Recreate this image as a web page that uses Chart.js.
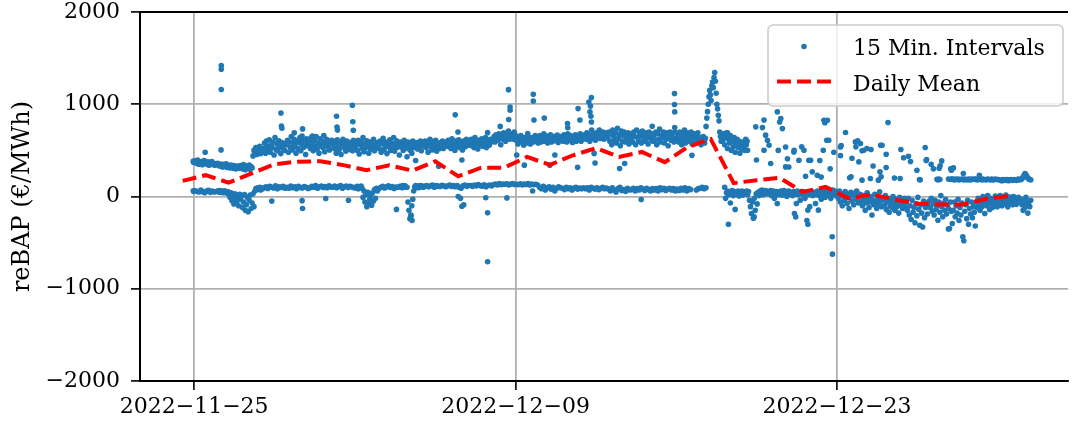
<!DOCTYPE html>
<html>
<head>
<meta charset="utf-8">
<script src="https://cdn.jsdelivr.net/npm/chart.js@4.4.0/dist/chart.umd.min.js"></script>
<style>
  html, body { margin: 0; padding: 0; background: #fff; }
  #chart { display: block; }
</style>
</head>
<body>
<canvas id="chart" width="1072" height="427"></canvas>
<script>
//======================== data ======================================================
// day 0 = 2022-11-25 00:00, values in EUR/MWh
const startDate = Date.UTC(2022, 10, 25);
const tickDays = [0, 14, 28];
const yTicks = [-2000, -1000, 0, 1000, 2000];

// upper cloud of the 15 min prices, one list per day, spread evenly over the day
const upperBand = [
  [385,370,360,395,350,372,358,380,345,368,390,480,362,350,375,340,365,355,378,348,360,338,352,345],
  [360,345,330,352,340,320,348,335,325,355,315,338,330,310,342,322,305,335,318,300,328,312,330,305],
  [335,320,300,345,310,290,330,315,305,340,295,325,310,440,500,470,530,455,510,480,545,465,520,490],
  [520,580,470,600,545,500,615,480,560,530,590,450,640,510,570,495,605,540,465,585,525,555,500,575],
  [560,610,480,590,530,650,505,575,620,545,470,600,520,585,640,495,560,610,535,580,455,625,550,590],
  [590,520,640,560,495,610,545,650,515,580,470,625,550,600,530,660,485,575,620,540,595,505,565,610],
  [560,600,520,580,470,615,540,505,590,455,560,620,530,575,490,600,545,510,585,530,570,495,610,555],
  [540,580,500,610,460,560,595,520,640,485,570,530,605,550,470,590,515,575,545,620,495,560,530,585],
  [560,520,600,480,575,630,510,550,590,465,570,540,615,500,580,525,640,490,560,605,535,575,450,590],
  [540,580,500,610,520,560,430,590,545,505,575,470,600,530,555,390,585,515,565,540,600,495,570,550],
  [560,600,530,590,480,570,620,545,505,595,560,530,610,490,575,540,520,585,555,600,520,570,545,590],
  [570,610,540,590,520,625,555,580,500,600,545,575,615,530,590,560,505,600,570,540,620,560,580,555],
  [580,620,550,600,530,640,570,590,515,610,560,600,625,545,590,570,640,530,605,580,555,620,590,610],
  [620,650,590,670,630,610,680,640,560,660,620,690,630,600,670,650,710,620,680,640,660,620,700,670],
  [610,650,570,630,600,660,590,620,555,640,610,580,650,600,625,570,640,610,590,630,660,605,620,580],
  [620,660,590,640,610,680,600,630,655,580,640,615,670,590,630,650,605,640,620,665,585,635,650,610],
  [640,600,670,620,650,590,680,630,610,660,640,585,650,625,670,600,640,655,620,680,600,640,665,630],
  [650,620,690,640,670,600,660,720,630,680,650,610,690,640,660,720,630,680,640,700,620,670,650,690],
  [640,700,600,680,560,720,650,610,690,580,740,630,670,550,710,600,660,700,590,650,620,690,570,660],
  [620,680,590,700,650,560,720,640,600,690,660,580,710,630,670,600,690,640,570,700,650,620,680,600],
  [650,600,700,560,680,620,730,590,660,640,700,580,670,620,690,550,650,700,610,680,640,590,700,630],
  [620,680,590,700,640,560,670,610,720,580,650,690,600,660,620,700,570,640,680,600,650,620,690,640],
  [600,640,560,620,590,650,610,580,630,760,850,920,1000,1080,1150,1100,1040,1200,1240,1180,1290,1343,1250,1120,1000,950,880,820,700,650,600,620],
  [600,680,560,640,690,520,620,580,660,500,600,540,640,480,580,620,530,600,470,560,520,590,540,500],
  [], [], [], [], [], [], [], [],
  [null,null,null,null,null,null,null,null,187,180,190,185,null,null,null,null,null,null,null,null,190,null,185,188],
  [190,185,180,190,null,185,190,180,185,null,190,185,180,190,185,null,180,190,185,180,190,185,null,188],
  [185,190,180,185,190,null,185,180,190,185,null,180,185,190,185,null,180,190,185,180,185,190,null,185],
  [185,180,null,175,170,185,180,null,175,185,180,170,null,185,180,175,185,null,180,175,185,190,180,185],
  [185,195,210,230,249,235,215,200,190,185,180,null,null,null,null,null,null,null,null,null,null,null,null,null],
];

// lower cloud, same layout
const lowerBand = [
  [62,55,48,70,52,40,58,66,45,60,50,55],
  [58,50,65,45,60,52,40,62,48,55,35,50,20,-10,40,-45,15,-80,30,-20,-60,10,-100,25],
  [-30,5,-120,-60,20,-150,-90,-10,-165,-40,15,-130,-70,30,-110,60,85,75,95,80,100,70,90,85],
  [95,105,88,110,100,92,115,85,105,98,110,90],
  [100,90,112,95,105,85,110,98,92,108,100,88],
  [95,110,100,118,90,105,112,98,108,95,115,102],
  [100,112,95,108,118,90,105,112,98,110,102,95],
  [100,92,110,85,105,98,112,90,-10,60,-60,20,-110,45,-80,-30,10,-95,40,-50,75,-20,90,60],
  [85,100,110,92,105,115,98,108,88,102,100,110],
  [110,95,120,105,115,100,100,-60,-150,-240,-200,-100,-30,60,105,118,100,110,95,115,120,105,112,100],
  [110,120,105,115,125,100,118,112,108,122,115,105],
  [115,125,110,120,105,118,100,90,115,125,110,120],
  [120,110,125,115,130,118,112,128,105,120,125,115],
  [130,135,125,140,128,135,132,138,125,135,140,130],
  [132,128,138,125,135,130,140,126,134,128,132,125],
  [100,85,110,70,95,105,80,100,60,90,105,95],
  [90,75,100,85,95,70,88,100,80,92,85,95],
  [85,95,70,100,90,80,95,75,88,100,85,92],
  [80,60,95,70,50,85,100,65,75,55,90,70],
  [75,90,60,85,70,95,80,65,88,75,60,85],
  [70,85,60,95,75,88,65,80,90,70,85,60],
  [80,65,90,70,95,60,85,75,null,null,70,85],
  [90,100,85,95,null,null,null,null,null,null,null,null],
  [null,null,100,-20,40,60,20,50,-70,30,65,10,55,-140,40,25,60,5,45,30,60,15,50,35],
  [40,60,20,55,-40,-110,-184,-60,-235,-20,-150,30,-80,45,10,60,35,70,20,55,40,65,30,50],
  [50,30,65,10,45,60,-20,35,55,-76,20,50,40,60,15,45,65,30,55,0,40,60,25,45],
  [40,10,55,-184,25,-76,60,20,45,-40,30,55,15,50,-20,40,-260,-148,20,-110,35,55,10,45],
  [40,-76,20,60,-148,10,50,-30,70,25,45,-10,60,30,80,15,55,-20,40,70,25,60,10,45],
  [40,-20,60,-60,10,-100,30,-40,55,-10,-75,20,-130,0,45,-50,15,-90,35,-30,60,-15,-70,25],
  [20,-50,-100,10,-30,-150,-70,40,-20,-120,-60,0,-200,-40,-90,25,-60,-130,-10,-80,50,-45,-110,-20],
  [-30,-90,10,-140,-60,-20,-170,-100,-45,-120,0,-80,-150,-30,-110,-60,-180,-10,-95,-50,-130,-70,-20,-115],
  [-60,-150,-20,-200,-100,-250,-40,-170,-120,-285,-80,-210,-10,-140,-311,-90,-180,-330,-50,-230,-120,-70,-190,-110],
  [-50,-120,-20,-160,-80,-200,-40,-140,-100,-257,-60,-170,10,-110,-220,-70,-150,-30,-190,-90,-130,-347,-60,-160],
  [-293,-150,-60,-220,-100,-180,-30,-260,-120,-200,-70,-437,-480,-160,-90,-240,-40,-300,-130,-190,-60,-230,-110,-170],
  [-320,-60,-120,-20,-90,-150,-40,-110,0,-70,-184,-30,-100,10,-60,-140,-20,-80,-120,-40,-90,5,-60,-110],
  [-20,-70,10,-50,-100,-10,-80,-40,15,-60,-112,-30,-5,-75,-45,-90,0,-55,-25,-85,-40,-10,-65,-30],
  [-30,-90,-150,-50,-120,-10,-80,-180,-60,-110,-40,null,null,null,null,null,null,null,null,null,null,null,null,null],
];

// single points away from the two clouds: [day, value]
const extraPoints = [
  [-0.04,385],[-0.03,372],[-0.04,62],[-0.02,55],
  [1.18,1420],[1.18,1380],[1.18,1160],[1.17,505],
  [3.38,-50],[3.78,905],[3.8,765],[3.82,740],
  [4.36,690],[4.7,655],[4.72,733],[4.7,-45],[4.72,-130],
  [5.15,655],[5.73,-22],
  [6.2,870],[6.22,754],[6.24,720],[6.72,-40],[6.89,989],[6.91,810],[6.93,718],
  [8.81,-140],[9.45,-210],[9.49,-260],[10.65,328],
  [11.37,885],[11.49,700],[11.5,0],[11.6,-20],[11.66,396],[11.66,-105],[11.74,-90],
  [12.7,-13],[12.78,692],[12.78,-177],[12.78,-708],
  [13.33,760],[13.62,-15],[13.69,1158],[13.7,835],[13.76,970],[13.76,935],
  [14.05,450],[14.38,340],[14.53,683],[14.74,60],[14.77,1108],[14.77,1036],[14.8,830],
  [15.25,850],[15.49,340],[15.71,450],
  [16.26,790],[16.27,745],[16.7,316],[16.72,953],[16.8,830],
  [17.19,1024],[17.24,917],[17.26,980],[17.28,870],[17.3,1072],[17.3,808],[17.42,467],[17.46,363],
  [18.53,303],[18.75,357],[19.47,-33],[19.95,761],
  [20.92,1116],[20.92,997],[20.93,917],[20.93,747],[21.68,446],
  [23.23,690],[23.27,-300],
  [24.02,620],[24.05,560],[24.08,600],[24.1,500],[24.39,-221],[24.46,755],[24.49,396],
  [24.75,747],[24.82,830],[24.82,502],[24.89,665],[24.97,610],
  [25.04,555],[25.11,357],[25.4,917],[25.44,500],[25.5,808],[25.55,845],[25.62,736],[25.76,537],[25.76,321],[25.84,410],[25.9,320],
  [26.12,483],[26.13,502],[26.2,-221],[26.34,393],[26.46,538],[26.56,502],[26.63,220],[26.73,-300],[26.77,393],[26.85,393],[26.92,267],
  [27.14,230],[27.25,390],[27.31,212],[27.4,502],[27.43,827],[27.47,800],[27.55,610],[27.58,827],[27.64,610],[27.7,300],
  [27.79,-437],[27.8,-625],[27.86,480],
  [28.15,537],[28.15,443],[28.18,552],[28.37,693],[28.55,202],[28.61,213],[28.65,415],[28.8,592],[28.82,538],[28.9,603],[28.95,375],
  [29.02,574],[29.09,495],[29.09,177],[29.16,502],[29.3,520],[29.45,195],[29.48,510],[29.57,330],[29.8,177],[29.87,267],[29.9,556],[29.92,213],[29.96,556],
  [30.14,458],[30.14,314],[30.22,802],[30.5,200],[30.75,195],[30.78,509],[30.9,420],
  [31.11,437],[31.2,380],[31.48,285],[31.59,184],[31.62,180],[31.84,531],[31.88,390],[31.9,400],
  [32.1,350],[32.2,300],[32.45,307],[32.49,332],[32.56,386],[32.85,-353],[32.95,300],[32.98,285],
  [33.07,310],[33.5,250],[34.2,230],
];

// daily mean, one value per day, plotted at noon from 2022-11-24 on
const meanFirstDay = -0.5;
const dailyMean = [170,231,150,250,350,378,382,340,285,339,280,382,219,312,312,429,343,447,524,430,
  483,372,537,622,145,177,202,50,104,-22,22,-33,-76,-87,-87,-25,6];

// ================== build points =======================
const scatterPoints = [];
function addBand(band) {
  band.forEach((vals, day) => {
    vals.forEach((v, i) => {
      if (v === null) return;
      scatterPoints.push({ x: day + (i + 0.5) / vals.length, y: v });
    });
  });
}
addBand(upperBand);
addBand(lowerBand);
extraPoints.forEach((p) => scatterPoints.push({ x: p[0], y: p[1] }));

const meanPoints = dailyMean.map((v, i) => ({ x: meanFirstDay + i, y: v }));

function dayLabel(d) {
  const t = new Date(startDate + d * 86400000);
  const mm = String(t.getUTCMonth() + 1).padStart(2, "0");
  const dd = String(t.getUTCDate()).padStart(2, "0");
  return t.getUTCFullYear() + "\u2212" + mm + "\u2212" + dd;
}

const serif = "'DejaVu Serif', serif";
const blue = "#1f77b4";

// top spine + matplotlib style legend box
const framePlugin = {
  id: "frame",
  afterDraw(chart) {
    const ctx = chart.ctx;
    const a = chart.chartArea;
    ctx.save();
    ctx.strokeStyle = "#000";
    ctx.lineWidth = 2;
    ctx.beginPath();
    ctx.moveTo(a.left - 1, a.top);
    ctx.lineTo(a.right, a.top);
    ctx.stroke();

    // legend
    const x0 = 768, y0 = 25, w = 295, h = 81, r = 5;
    ctx.beginPath();
    ctx.moveTo(x0 + r, y0);
    ctx.arcTo(x0 + w, y0, x0 + w, y0 + h, r);
    ctx.arcTo(x0 + w, y0 + h, x0, y0 + h, r);
    ctx.arcTo(x0, y0 + h, x0, y0, r);
    ctx.arcTo(x0, y0, x0 + w, y0, r);
    ctx.closePath();
    ctx.fillStyle = "rgba(255,255,255,0.8)";
    ctx.fill();
    ctx.strokeStyle = "#cccccc";
    ctx.lineWidth = 1.6;
    ctx.stroke();

    ctx.fillStyle = blue;
    ctx.beginPath();
    ctx.arc(804, 46.5, 2.8, 0, Math.PI * 2);
    ctx.fill();

    ctx.strokeStyle = "#ff0000";
    ctx.lineWidth = 4;
    ctx.setLineDash([14, 6]);
    ctx.beginPath();
    ctx.moveTo(777, 81.5);
    ctx.lineTo(831, 81.5);
    ctx.stroke();
    ctx.setLineDash([]);

    ctx.fillStyle = "#000";
    ctx.font = "22px " + serif;
    ctx.textAlign = "left";
    ctx.textBaseline = "alphabetic";
    const ds = chart.data.datasets;
    ctx.fillText(ds[0].label, 853, 54.5);
    ctx.fillText(ds[1].label, 853, 91);
    ctx.restore();
  },
};

const config = {
  type: "scatter",
  data: {
    datasets: [
      {
        label: "15 Min. Intervals",
        data: scatterPoints,
        backgroundColor: blue,
        borderColor: blue,
        pointRadius: 2.8,
        pointBorderWidth: 0,
        borderWidth: 0,
        order: 2,
      },
      {
        type: "line",
        label: "Daily Mean",
        data: meanPoints,
        showLine: true,
        borderColor: "#ff0000",
        borderWidth: 4,
        borderDash: [14, 6],
        pointRadius: 0,
        fill: false,
        tension: 0,
        order: 1,
      },
    ],
  },
  options: {
    responsive: false,
    animation: false,
    devicePixelRatio: 1,
    events: [],
    layout: { padding: { top: 12, right: 0, bottom: 0, left: 0 } },
    plugins: {
      legend: { display: false },
      tooltip: { enabled: false },
    },
    scales: {
      x: {
        type: "linear",
        min: -2.36,
        max: 38.06,
        afterBuildTicks: (scale) => {
          scale.ticks = tickDays.map((v) => ({ value: v }));
        },
        afterFit: (scale) => {
          scale.height = 46;
          scale.paddingLeft = 0;
          scale.paddingRight = 0;
        },
        ticks: {
          callback: (v) => dayLabel(v),
          color: "#000",
          padding: 4,
          maxRotation: 0,
          autoSkip: false,
          font: { family: serif, size: 22 },
        },
        grid: { color: "#b0b0b0", lineWidth: 1.8, tickColor: "#000", tickLength: 9, tickWidth: 1.6 },
        border: { color: "#000", width: 2 },
      },
      y: {
        min: -2000,
        max: 2000,
        afterBuildTicks: (scale) => {
          scale.ticks = yTicks.map((v) => ({ value: v }));
        },
        afterFit: (scale) => {
          scale.width = 140;
          scale.paddingTop = 0;
          scale.paddingBottom = 0;
        },
        ticks: {
          callback: (v) => (v < 0 ? "\u2212" + Math.abs(v) : String(v)),
          color: "#000",
          padding: 11,
          font: { family: serif, size: 22, lineHeight: 1 },
        },
        grid: { color: "#b0b0b0", lineWidth: 1.8, tickColor: "#000", tickLength: 9, tickWidth: 1.6 },
        border: { color: "#000", width: 2 },
        title: {
          display: true,
          text: "reBAP (\u20ac/MWh)",
          color: "#000",
          padding: { top: 8, bottom: 0 },
          font: { family: serif, size: 24 },
        },
      },
    },
  },
  plugins: [framePlugin],
};

const reBapChart = new Chart(document.getElementById("chart"), config);
</script>
</body>
</html>
